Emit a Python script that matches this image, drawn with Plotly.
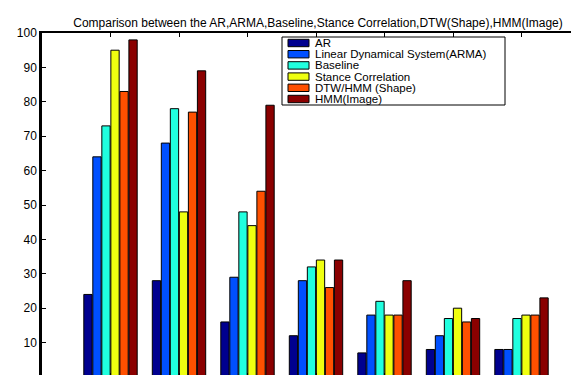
import plotly.graph_objects as go

# ---- data ----
categories = [1, 2, 3, 4, 5, 6, 7]
series_names = ["AR", "Linear Dynamical System(ARMA)", "Baseline",
                "Stance Correlation", "DTW/HMM (Shape)", "HMM(Image)"]
ar = [24, 28, 16, 12, 7, 8, 8]
arma = [64, 68, 29, 28, 18, 12, 8]
baseline = [73, 78, 48, 32, 22, 17, 17]
stance = [95, 48, 44, 34, 18, 20, 18]
dtw_shape = [83, 77, 54, 26, 18, 16, 18]
hmm_image = [98, 89, 79, 34, 28, 17, 23]
series_values = [ar, arma, baseline, stance, dtw_shape, hmm_image]
colors = ["#00008F", "#0050FF", "#20FFDF", "#EFFF10", "#FF5000", "#8A0000"]
y_ticks = [0, 10, 20, 30, 40, 50, 60, 70, 80, 90, 100]
title_text = "Comparison between the AR,ARMA,Baseline,Stance Correlation,DTW(Shape),HMM(Image)"

W, H = 579, 375
ML, MR, MT, MB = 34, 0, 25, 6
PW, PH = W - ML - MR, H - MT - MB

def px_x(px):
    return (px - ML) / PW

def px_y(py):
    return (H - MB - py) / PH

FONT = "Liberation Sans, Arial, sans-serif"

fig = go.Figure()
for name, vals, col in zip(series_names, series_values, colors):
    fig.add_trace(go.Bar(x=categories, y=vals, name=name, marker_color=col,
                         marker_line=dict(color="black", width=1),
                         showlegend=False))

# manual legend (MATLAB style compact box)
shapes = [dict(type="rect", xref="paper", yref="paper",
               x0=px_x(274), x1=px_x(497), y0=px_y(97), y1=px_y(29),
               fillcolor="white", line=dict(color="black", width=1), layer="above")]
annotations = []
for i, (name, col) in enumerate(zip(series_names, colors)):
    cy = 35 + 11.2 * i
    shapes.append(dict(type="rect", xref="paper", yref="paper",
                       x0=px_x(280), x1=px_x(301), y0=px_y(cy + 3.7), y1=px_y(cy - 3.7),
                       fillcolor=col, line=dict(color="black", width=1), layer="above"))
    annotations.append(dict(text=name, xref="paper", yref="paper",
                            x=px_x(306), y=px_y(cy), xanchor="left", yanchor="middle",
                            showarrow=False, borderpad=0,
                            font=dict(family=FONT, size=11.5, color="black")))

fig.update_layout(
    template="none",
    width=W, height=H,
    margin=dict(l=ML, r=MR, t=MT, b=MB, pad=0),
    paper_bgcolor="white", plot_bgcolor="white",
    barmode="group", bargap=0.21, bargroupgap=0.08,
    title=dict(text=title_text, x=310 / W, xref="container", xanchor="center",
               y=1 - 15 / H, yref="container", yanchor="middle",
               font=dict(family=FONT, size=12, color="black")),
    shapes=shapes, annotations=annotations,
    font=dict(family=FONT, size=12, color="black"),
)
fig.update_xaxes(range=[0, PW / 68.5], tickvals=categories, ticktext=[str(c) for c in categories],
                 showgrid=False, zeroline=False, showline=True, linecolor="black", linewidth=2,
                 mirror="ticks", ticks="inside", ticklen=4, tickcolor="black",
                 automargin=False, tickfont=dict(family=FONT, size=12))
fig.update_yaxes(range=[0, 100], tickvals=y_ticks, showgrid=False, zeroline=False,
                 showline=True, linecolor="black", linewidth=2.5,
                 ticks="inside", ticklen=4, tickcolor="black",
                 automargin=False, tickfont=dict(family=FONT, size=12))

fig.write_html("out.html")
